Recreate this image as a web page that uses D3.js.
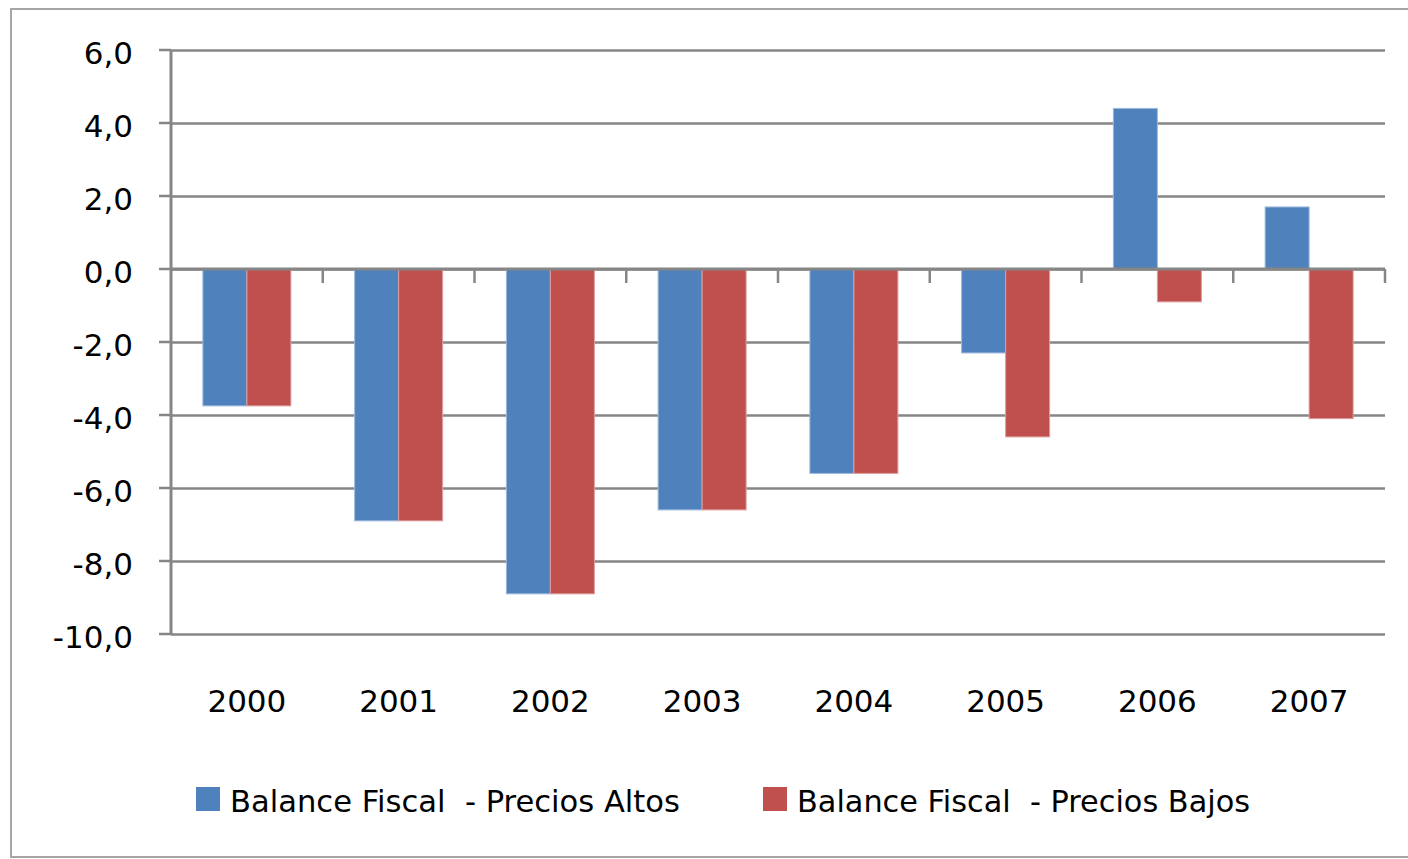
<!DOCTYPE html>
<html>
<head>
<meta charset="utf-8">
<script src="https://cdnjs.cloudflare.com/ajax/libs/d3/7.8.5/d3.min.js"></script>
<style>
  body { margin: 0; background: #fff; }
  text { font-family: "DejaVu Sans", sans-serif; fill: #000; }
</style>
</head>
<body>
<script>
// data
var years = ["2000", "2001", "2002", "2003", "2004", "2005", "2006", "2007"];
var preciosAltos = [-3.75, -6.9, -8.9, -6.6, -5.6, -2.3, 4.4, 1.7];
var preciosBajos = [-3.75, -6.9, -8.9, -6.6, -5.6, -4.6, -0.9, -4.1];
var seriesNames = ["Balance Fiscal  - Precios Altos", "Balance Fiscal  - Precios Bajos"];
var yTicks = [6, 4, 2, 0, -2, -4, -6, -8, -10];

var colors = ["#4F81BD", "#C0504D"];
var strokes = ["#9DB9DC", "#DC9E9C"];

var W = 1408, H = 859;
var plot = { left: 171, right: 1385, top: 50, bottom: 634 };

var svg = d3.select("body")
    .append("svg")
    .attr("width", W)
    .attr("height", H);

// outer chart border (right edge runs off the page)
svg.append("path")
    .attr("d", "M1408,9 H11 V857 H1408")
    .attr("fill", "none")
    .attr("stroke", "#A6A6A6")
    .attr("stroke-width", 2);

var y = d3.scaleLinear()
    .domain([-10, 6])
    .range([plot.bottom, plot.top]);

var x = d3.scaleBand()
    .domain(years)
    .range([plot.left, plot.right]);

// comma decimals, plain hyphen for negatives
var fmt = d3.formatLocale({ decimal: ",", thousands: ".", grouping: [3], currency: ["", ""], minus: "-" }).format(".1f");

// gridlines
svg.append("g")
    .attr("transform", "translate(" + plot.left + ",0)")
    .call(d3.axisLeft(y)
        .tickValues(yTicks)
        .tickSize(-(plot.right - plot.left))
        .tickFormat(""))
    .call(function(g) { g.select(".domain").remove(); })
    .selectAll("line")
    .attr("stroke", "#868686")
    .attr("stroke-width", 2.5);

// y tick marks
svg.append("g")
    .selectAll("line")
    .data(yTicks)
    .enter().append("line")
    .attr("x1", plot.left - 12)
    .attr("x2", plot.left)
    .attr("y1", function(d) { return y(d); })
    .attr("y2", function(d) { return y(d); })
    .attr("stroke", "#868686")
    .attr("stroke-width", 2.5);

svg.append("g")
    .selectAll("text")
    .data(yTicks)
    .enter().append("text")
    .attr("x", 133)
    .attr("y", function(d) { return y(d) + 14; })
    .attr("text-anchor", "end")
    .style("font-size", "31px")
    .text(function(d) { return fmt(d); });

// bars
var groups = [preciosAltos, preciosBajos];
var barW = 44;
groups.forEach(function(vals, si) {
    svg.append("g")
        .selectAll("rect")
        .data(vals)
        .enter().append("rect")
        .attr("x", function(d, i) { return x(years[i]) + x.bandwidth() / 2 - barW + si * barW; })
        .attr("y", function(d) { return y(Math.max(0, d)); })
        .attr("width", barW)
        .attr("height", function(d) { return Math.abs(y(d) - y(0)); })
        .attr("fill", colors[si])
        .attr("stroke", strokes[si])
        .attr("stroke-width", 1);
});

// zero axis line and category ticks
svg.append("line")
    .attr("x1", plot.left)
    .attr("x2", plot.right)
    .attr("y1", y(0))
    .attr("y2", y(0))
    .attr("stroke", "#868686")
    .attr("stroke-width", 3);

svg.append("g")
    .selectAll("line")
    .data(years)
    .enter().append("line")
    .attr("x1", function(d) { return x(d) + x.bandwidth(); })
    .attr("x2", function(d) { return x(d) + x.bandwidth(); })
    .attr("y1", y(0))
    .attr("y2", y(0) + 14)
    .attr("stroke", "#868686")
    .attr("stroke-width", 2.5);

// y axis line
svg.append("line")
    .attr("x1", plot.left)
    .attr("x2", plot.left)
    .attr("y1", plot.top)
    .attr("y2", plot.bottom)
    .attr("stroke", "#868686")
    .attr("stroke-width", 3);

// x labels
svg.append("g")
    .selectAll("text")
    .data(years)
    .enter().append("text")
    .attr("x", function(d) { return x(d) + x.bandwidth() / 2; })
    .attr("y", 712)
    .attr("text-anchor", "middle")
    .style("font-size", "31px")
    .text(function(d) { return d; });

// legend
var legendX = [196, 763];
var legendW = [450, 453];
var legend = svg.append("g");
seriesNames.forEach(function(name, i) {
    legend.append("rect")
        .attr("x", legendX[i])
        .attr("y", 787)
        .attr("width", 24)
        .attr("height", 24)
        .attr("fill", colors[i]);
    legend.append("text")
        .attr("x", legendX[i] + 34)
        .attr("y", 812)
        .attr("textLength", legendW[i])
        .attr("lengthAdjust", "spacingAndGlyphs")
        .style("font-size", "31px")
        .style("white-space", "pre")
        .text(name);
});
</script>
</body>
</html>
